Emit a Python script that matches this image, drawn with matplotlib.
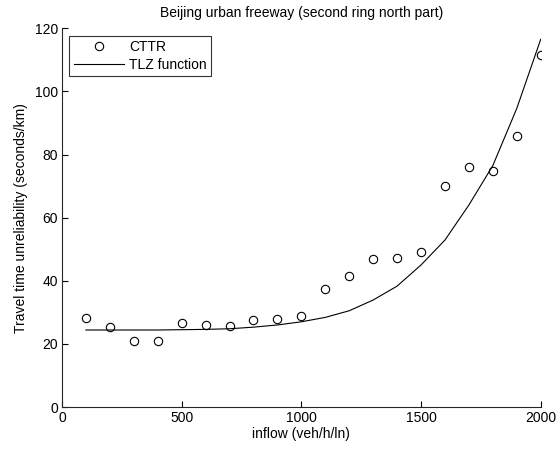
import matplotlib
matplotlib.use("Agg")
import matplotlib.pyplot as plt

plt.rcParams['font.family'] = ['Liberation Sans', 'DejaVu Sans']

# inflow levels (veh/h/ln)
inflow = [100, 200, 300, 400, 500, 600, 700, 800, 900, 1000,
          1100, 1200, 1300, 1400, 1500, 1600, 1700, 1800, 1900, 2000]

# observed travel time unreliability (seconds/km)
cttr = [28.2, 25.4, 20.9, 20.9, 26.6, 26.0, 25.6, 27.6, 27.8, 28.7,
        37.4, 41.5, 46.9, 47.1, 49.1, 70.0, 76.1, 74.8, 85.8, 111.5]

# fitted TLZ function values
tlz = [24.4, 24.4, 24.4, 24.4, 24.5, 24.6, 24.8, 25.3, 26.0, 27.0,
       28.4, 30.5, 33.9, 38.3, 45.0, 52.9, 64.0, 76.5, 94.6, 116.5]

x_ticks = [0, 500, 1000, 1500, 2000]
y_ticks = [0, 20, 40, 60, 80, 100, 120]

FS = 10

fig = plt.figure(figsize=(5.58, 4.49), dpi=100)
ax = fig.add_axes([0.111, 0.0935, 0.858, 0.8435])

ax.plot(inflow, cttr, linestyle='none', marker='o', markersize=6,
        markerfacecolor='none', markeredgecolor='black', markeredgewidth=0.8,
        label='CTTR')
ax.plot(inflow, tlz, color='black', linewidth=0.8, label='TLZ function')

ax.set_xlim(0, 2000)
ax.set_ylim(0, 120)
ax.set_xticks(x_ticks)
ax.set_yticks(y_ticks)
ax.tick_params(direction='in', length=4, width=0.8, labelsize=FS, colors='black', pad=3)
for side in ('top', 'right'):
    ax.spines[side].set_visible(False)
for side in ('left', 'bottom'):
    ax.spines[side].set_linewidth(0.8)
    ax.spines[side].set_color('#262626')

ax.set_title('Beijing urban freeway (second ring north part)', fontsize=FS, pad=8)
ax.set_xlabel('inflow (veh/h/ln)', fontsize=FS, labelpad=1)
ax.set_ylabel('Travel time unreliability (seconds/km)', fontsize=FS, labelpad=5)

leg = ax.legend(loc='upper left', bbox_to_anchor=(0.015, 0.98), fontsize=FS,
                frameon=True, fancybox=False, edgecolor='black',
                handlelength=3.6, borderpad=0.32, labelspacing=0.25,
                handletextpad=0.4, borderaxespad=0)
leg.get_frame().set_linewidth(0.8)

fig.savefig('out.png', dpi=100)
